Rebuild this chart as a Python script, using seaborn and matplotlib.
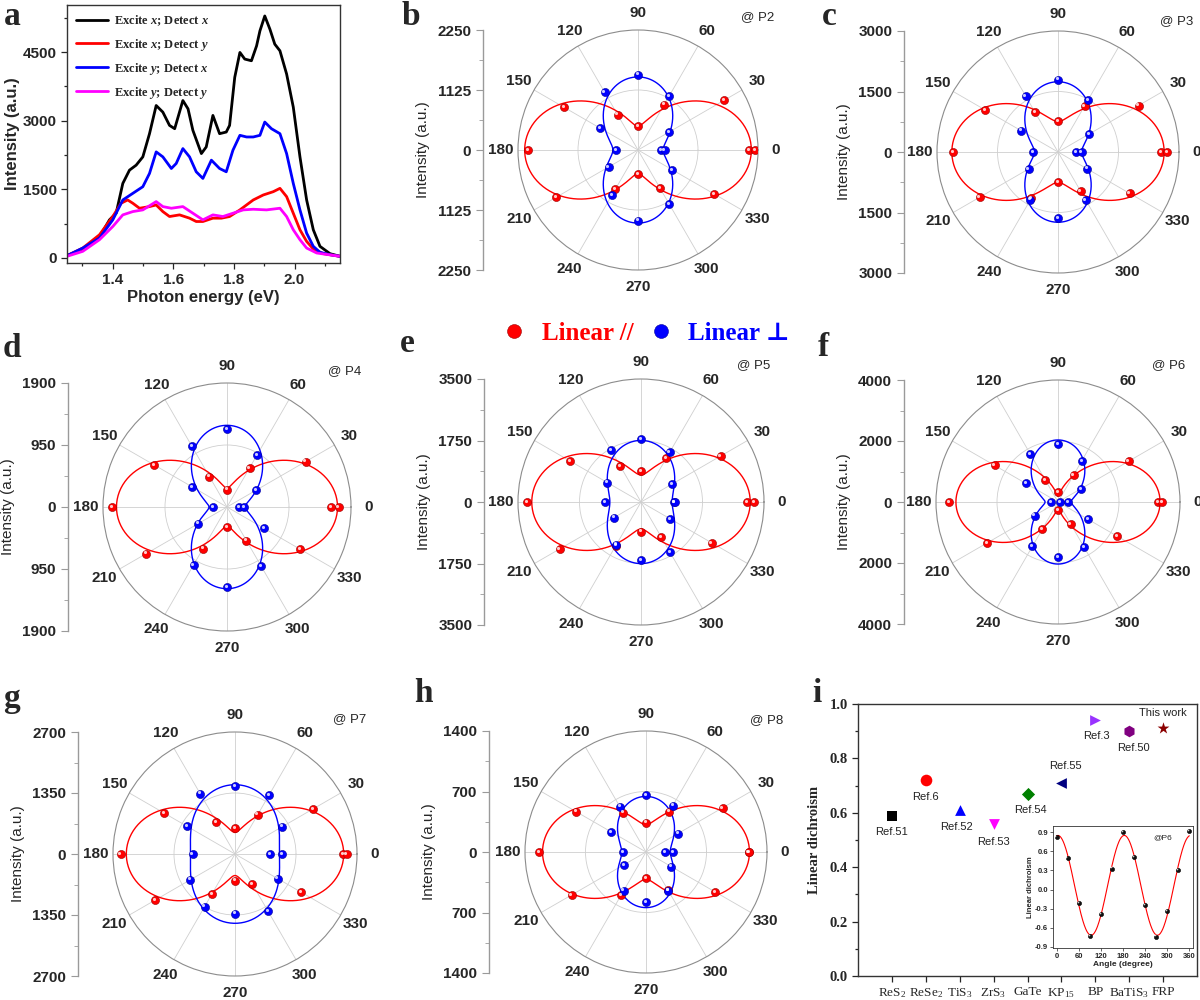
import matplotlib
matplotlib.use('Agg')
import matplotlib.pyplot as plt
import numpy as np
import pandas as pd
import seaborn as sns
from matplotlib.font_manager import FontProperties
from matplotlib.lines import Line2D
from matplotlib.ticker import FixedLocator, MultipleLocator
from matplotlib.transforms import ScaledTranslation

# ---- panel a: PL spectra for the four polarization configurations ----
e_xx = [1.250, 1.302, 1.357, 1.390, 1.412, 1.434, 1.456, 1.478, 1.500, 1.522,
        1.544, 1.566, 1.588, 1.605, 1.632, 1.649, 1.665, 1.693, 1.709, 1.731,
        1.753, 1.775, 1.786, 1.803, 1.820, 1.836, 1.858, 1.875, 1.886, 1.902,
        1.919, 1.935, 1.952, 1.974, 1.996, 2.018, 2.040, 2.062, 2.084, 2.117, 2.150]
i_xx = [50, 195, 456, 833, 978, 1630, 1920, 2029, 2210, 2717,
        3333, 3188, 2898, 2826, 3442, 3260, 2790, 2282, 2427, 3116,
        2717, 2753, 2898, 3949, 4493, 4348, 4311, 4637, 4964, 5290,
        5000, 4674, 4529, 4021, 3297, 2210, 1268, 616, 254, 94, 36]

e_xy = [1.250, 1.302, 1.357, 1.401, 1.428, 1.450, 1.467, 1.489, 1.522, 1.544,
        1.566, 1.588, 1.621, 1.654, 1.676, 1.698, 1.731, 1.759, 1.786, 1.820,
        1.864, 1.897, 1.930, 1.952, 1.974, 1.996, 2.018, 2.040, 2.062, 2.095, 2.150]
i_xy = [50, 217, 507, 906, 1196, 1268, 1196, 1087, 1123, 1159,
        1014, 906, 942, 870, 797, 797, 870, 870, 906, 1051,
        1268, 1377, 1449, 1522, 1341, 978, 616, 362, 196, 94, 36]

e_yx = [1.250, 1.302, 1.357, 1.401, 1.434, 1.467, 1.500, 1.522, 1.544, 1.566,
        1.594, 1.610, 1.632, 1.654, 1.676, 1.698, 1.726, 1.753, 1.775, 1.797,
        1.820, 1.842, 1.864, 1.886, 1.902, 1.924, 1.952, 1.974, 1.996, 2.018,
        2.040, 2.062, 2.084, 2.117, 2.150]
i_yx = [50, 217, 435, 833, 1268, 1413, 1558, 1848, 2319, 2210,
        1956, 2065, 2391, 2210, 1884, 1739, 2138, 1956, 1884, 2355,
        2681, 2645, 2645, 2681, 2971, 2826, 2717, 2282, 1630, 1051,
        543, 254, 123, 72, 36]

e_yy = [1.250, 1.302, 1.357, 1.401, 1.434, 1.467, 1.500, 1.544, 1.566, 1.594,
        1.632, 1.665, 1.698, 1.731, 1.764, 1.797, 1.831, 1.864, 1.908, 1.952,
        1.974, 1.996, 2.018, 2.040, 2.073, 2.150]
i_yy = [36, 145, 399, 688, 942, 1014, 1051, 1232, 1123, 1087,
        1123, 978, 833, 942, 906, 978, 1051, 1065, 1051, 1087,
        906, 616, 399, 217, 109, 36]

configs = [r'Excite $x$; Detect $x$', r'Excite $x$; Detect $y$',
           r'Excite $y$; Detect $x$', r'Excite $y$; Detect $y$']

# ---- panels b-h: polarized intensity vs angle (0..360 step 30) ----
angles = [0, 30, 60, 90, 120, 150, 180, 210, 240, 270, 300, 330, 360]

b_par = [2086, 1866, 984, 454, 765, 1595, 2066, 1770, 850, 454, 821, 1643, 2193]
b_perp = [435, 674, 1166, 1411, 1248, 825, 416, 638, 979, 1323, 1166, 745, 498]
c_par = [2557, 2305, 1324, 760, 1136, 2077, 2606, 2247, 1315, 743, 1128, 2050, 2712]
c_perp = [449, 890, 1495, 1797, 1610, 1062, 621, 842, 1364, 1634, 1373, 825, 588]
d_par = [1592, 1390, 690, 267, 539, 1294, 1756, 1427, 736, 308, 597, 1290, 1710]
d_perp = [185, 513, 922, 1196, 1074, 618, 216, 506, 1026, 1232, 1042, 652, 267]
e_par = [3016, 2620, 1440, 882, 1183, 2330, 3244, 2676, 1436, 844, 1151, 2320, 3225]
e_perp = [949, 1018, 1632, 1783, 1707, 1101, 1024, 888, 1402, 1650, 1650, 955, 960]
f_par = [3274, 2678, 1030, 325, 826, 2398, 3577, 2675, 1032, 260, 825, 2247, 3415]
f_perp = [76, 866, 1561, 1886, 1807, 1218, 217, 888, 1682, 1810, 1710, 1132, 325]
g_par = [2385, 1987, 1005, 572, 821, 1805, 2531, 2049, 1023, 587, 763, 1696, 2473]
g_perp = [770, 1213, 1504, 1504, 1546, 1219, 939, 1139, 1342, 1321, 1460, 1088, 1049]
h_par = [1187, 1023, 540, 339, 525, 936, 1236, 992, 575, 300, 508, 920, 1195]
h_perp = [217, 426, 620, 658, 605, 468, 266, 297, 517, 582, 517, 338, 312]

r_max = {'P2': 2250, 'P3': 3000, 'P4': 1900, 'P5': 3500, 'P6': 4000, 'P7': 2700, 'P8': 1400}

# ---- panel i: linear dichroism comparison ----
materials = [r'ReS$_\mathrm{2}$', r'ReSe$_\mathrm{2}$', r'TiS$_\mathrm{3}$', r'ZrS$_\mathrm{3}$',
             'GaTe', r'KP$_\mathrm{15}$', 'BP', r'BaTiS$_\mathrm{3}$', 'FRP']
ld_values = [0.59, 0.72, 0.61, 0.56, 0.67, 0.71, 0.94, 0.90, 0.91]
refs = ['Ref.51', 'Ref.6', 'Ref.52', 'Ref.53', 'Ref.54', 'Ref.55', 'Ref.3', 'Ref.50', 'This work']

# inset: LD vs angle at P6
ld_angle = [0, 30, 60, 90, 120, 150, 180, 210, 240, 270, 300, 330, 360]
ld_p6 = [0.82, 0.50, -0.21, -0.73, -0.39, 0.33, 0.90, 0.51, -0.24, -0.74, -0.34, 0.31, 0.92]

W, H = 1200, 1000
SERIF = 'Liberation Serif'
RED, BLUE = '#ff0000', '#0000ff'

sns.set_style('ticks')
plt.rcParams['font.family'] = ['Liberation Sans', 'DejaVu Sans']
plt.rcParams['mathtext.fontset'] = 'custom'
plt.rcParams['mathtext.rm'] = 'Liberation Serif'
plt.rcParams['mathtext.it'] = 'Liberation Serif:italic:bold'
plt.rcParams['axes.edgecolor'] = '#333333'
plt.rcParams['axes.linewidth'] = 1.0

fig = plt.figure(figsize=(12, 10), dpi=100)


def rect(l, t, r, b):
    return [l / W, 1 - b / H, (r - l) / W, (b - t) / H]


def cos2_fit(ang, vals, grid, tilt=False):
    t = np.deg2rad(ang)
    g = np.deg2rad(grid)
    cols = [np.ones_like(t), np.cos(2 * t)] + ([np.sin(2 * t)] if tilt else [])
    gcols = [np.ones_like(g), np.cos(2 * g)] + ([np.sin(2 * g)] if tilt else [])
    coef, *_ = np.linalg.lstsq(np.column_stack(cols), np.asarray(vals, float), rcond=None)
    return np.column_stack(gcols) @ coef


def shiny(ax, x, y, color, dark, size):
    sns.scatterplot(x=x, y=y, ax=ax, color=color, s=size, edgecolor=dark,
                    linewidth=0.4, zorder=4, legend=False)
    off = ax.transData + ScaledTranslation(-0.9 / 72, 0.9 / 72, fig.dpi_scale_trans)
    ax.scatter(x, y, s=size * 0.15, color='white', alpha=0.8, lw=0, zorder=5, transform=off)


def panel_letter(x, y, s):
    fig.text(x / W, 1 - y / H, s, fontsize=24, fontweight='bold', family=SERIF, va='baseline')


def polar_panel(cx, cy, R, axis_x, tag, tag_xy, par, perp):
    rmax = r_max[tag]
    pax = fig.add_axes(rect(cx - R, cy - R, cx + R, cy + R), projection='polar')
    grid = np.arange(0, 361, 1)
    th = np.deg2rad(angles)
    for vals, col, dark in [(par, RED, '#9a0000'), (perp, BLUE, '#00009a')]:
        sns.lineplot(x=np.deg2rad(grid), y=cos2_fit(angles, vals, grid), ax=pax,
                     color=col, lw=1.0, sort=False, zorder=3)
        shiny(pax, th, vals, col, dark, 34)
    pax.set_ylim(0, rmax)
    pax.set_yticks([rmax / 2])
    pax.set_yticklabels([])
    pax.set_thetagrids(range(0, 360, 30), [str(a) for a in range(0, 360, 30)],
                       fontsize=11, fontweight='bold')
    pax.tick_params(axis='x', pad=2)
    pax.grid(color='#cfcfcf', lw=0.6)
    pax.spines['polar'].set_edgecolor('#8c8c8c')
    pax.spines['polar'].set_linewidth(0.8)
    pax.set_xlabel('')
    pax.set_ylabel('')

    lax = fig.add_axes(rect(axis_x, cy - R, axis_x + 1, cy + R))
    lax.patch.set_visible(False)
    for s in ('top', 'right', 'bottom'):
        lax.spines[s].set_visible(False)
    lax.spines['left'].set_color('#9a9a9a')
    lax.set_xticks([])
    lax.set_ylim(-rmax, rmax)
    ticks = [-rmax, -rmax / 2, 0, rmax / 2, rmax]
    lax.yaxis.set_major_locator(FixedLocator(ticks))
    lax.set_yticklabels([str(abs(int(v))) for v in ticks], fontsize=11, fontweight='bold')
    lax.yaxis.set_minor_locator(FixedLocator([-0.75 * rmax, -0.25 * rmax, 0.25 * rmax, 0.75 * rmax]))
    lax.tick_params(axis='y', which='major', length=5, color='#9a9a9a')
    lax.tick_params(axis='y', which='minor', length=3, color='#9a9a9a')
    lax.set_ylabel('Intensity (a.u.)', fontsize=11, labelpad=5)

    fig.text(tag_xy[0] / W, 1 - tag_xy[1] / H, '@ ' + tag, fontsize=9.5, va='center')


# ---------------- panel a ----------------
ax_a = fig.add_axes(rect(67, 5, 340, 263))
spec = pd.concat([
    pd.DataFrame({'energy': e, 'intensity': v, 'config': lab})
    for e, v, lab in zip([e_xx, e_xy, e_yx, e_yy], [i_xx, i_xy, i_yx, i_yy], configs)
], ignore_index=True)
sns.lineplot(data=spec, x='energy', y='intensity', hue='config', hue_order=configs,
             palette=['#000000', '#ff0000', '#0000ff', '#ff00ff'], estimator=None,
             sort=False, lw=2.0, ax=ax_a)
ax_a.set_xlim(1.25, 2.15)
ax_a.set_ylim(-110, 5530)
ax_a.set_xticks([1.4, 1.6, 1.8, 2.0], ['1.4', '1.6', '1.8', '2.0'], fontsize=11, fontweight='bold')
ax_a.set_yticks([0, 1500, 3000, 4500], ['0', '1500', '3000', '4500'], fontsize=11, fontweight='bold')
ax_a.xaxis.set_minor_locator(MultipleLocator(0.1))
ax_a.yaxis.set_minor_locator(MultipleLocator(750))
ax_a.tick_params(which='both', direction='out', length=4, width=0.9)
ax_a.tick_params(which='minor', length=2.5)
ax_a.set_xlabel('Photon energy (eV)', fontsize=12, fontweight='bold', labelpad=2)
ax_a.set_ylabel('Intensity (a.u.)', fontsize=12, fontweight='bold', labelpad=2)
ax_a.legend(frameon=False, loc='upper left', bbox_to_anchor=(-0.01, 1.01),
            prop=FontProperties(family=SERIF, weight='bold', size=9),
            handlelength=2.6, handletextpad=0.5, labelspacing=0.65)

# ---------------- polar panels ----------------
polar_panel(638, 150, 120, 483, 'P2', (741, 17), b_par, b_perp)
polar_panel(1058, 152, 121, 904, 'P3', (1160, 21), c_par, c_perp)
polar_panel(227, 507, 124, 68, 'P4', (328, 371), d_par, d_perp)
polar_panel(641, 502, 123, 484, 'P5', (737, 365), e_par, e_perp)
polar_panel(1058, 502, 122, 904, 'P6', (1152, 365), f_par, f_perp)
polar_panel(235, 854, 122, 78, 'P7', (333, 719), g_par, g_perp)
polar_panel(646, 852, 121, 489, 'P8', (750, 720), h_par, h_perp)

# legend between rows
leg_handles = [
    Line2D([], [], ls='', marker='o', ms=10, mfc=RED, mec='#9a0000', mew=0.4, label='Linear //'),
    Line2D([], [], ls='', marker='o', ms=10, mfc=BLUE, mec='#00009a', mew=0.4, label='Linear \u22a5'),
]
fig.legend(handles=leg_handles, ncol=2, frameon=False, loc='center',
           bbox_to_anchor=(646 / W, 1 - 333 / H),
           prop=FontProperties(family=[SERIF, 'DejaVu Serif'], weight='bold', size=18),
           labelcolor=[RED, BLUE], handlelength=1.0, handletextpad=0.6, columnspacing=0.6)

# ---------------- panel i ----------------
ax_i = fig.add_axes(rect(858, 704, 1197, 976))
mat_colors = ['#000000', '#ff0000', '#0000ff', '#ff00ff', '#008000', '#000080', '#9933ff', '#800080', '#8b0000']
mat_markers = ['s', 'o', '^', 'v', 'D', '<', '>', 'h', '*']
mat_sizes = [45, 70, 60, 60, 45, 60, 60, 70, 80]
label_off = [(0, -12), (0, -12), (-2, -12), (0, -13), (2, -12), (3, 12), (1, -11), (3, -12), (0, 11)]
pos = np.arange(1, len(materials) + 1)
for p, v, c, m, sz in zip(pos, ld_values, mat_colors, mat_markers, mat_sizes):
    sns.scatterplot(x=[p], y=[v], marker=m, color=c, s=sz, linewidth=0, ax=ax_i, legend=False)
for p, v, r, off in zip(pos, ld_values, refs, label_off):
    ax_i.annotate(r, (p, v), xytext=off, textcoords='offset points', ha='center', va='center',
                  fontsize=8, color='#222222')
ax_i.set_xlim(0, 10)
ax_i.set_ylim(0, 1.0)
ax_i.set_xticks(pos, materials, family=SERIF, fontsize=9.5)
ax_i.set_yticks(np.arange(0, 1.01, 0.2), [f'{v:.1f}' for v in np.arange(0, 1.01, 0.2)],
                family=SERIF, fontsize=10.5, fontweight='bold')
ax_i.yaxis.set_minor_locator(MultipleLocator(0.1))
ax_i.tick_params(which='both', direction='out', length=4, width=0.9)
ax_i.tick_params(which='minor', length=2.5)
ax_i.set_ylabel('Linear dichroism', family=SERIF, fontsize=10.5, fontweight='bold', labelpad=6)
ax_i.set_xlabel('')

ax_in = fig.add_axes(rect(1053, 826, 1193, 948))
ang_grid = np.arange(0, 361, 1)
sns.lineplot(x=ang_grid, y=cos2_fit(ld_angle, ld_p6, ang_grid, tilt=True), color=RED,
             lw=0.8, ax=ax_in)
shiny(ax_in, ld_angle, ld_p6, '#111111', '#000000', 9)
ax_in.set_xlim(-10, 370)
ax_in.set_ylim(-0.92, 1.0)
ax_in.set_xticks(range(0, 361, 60), [str(a) for a in range(0, 361, 60)], fontsize=5.5, fontweight='bold')
ld_ticks = [-0.9, -0.6, -0.3, 0.0, 0.3, 0.6, 0.9]
ax_in.set_yticks(ld_ticks, [f'{v:.1f}' for v in ld_ticks], fontsize=5.5, fontweight='bold')
ax_in.tick_params(length=2, width=0.5, pad=1.5)
for s in ax_in.spines.values():
    s.set_linewidth(0.6)
ax_in.set_xlabel('Angle (degree)', fontsize=6, fontweight='bold', labelpad=1)
ax_in.set_ylabel('Linear dichroism', fontsize=5.5, fontweight='bold', labelpad=1)
ax_in.text(0.72, 0.9, '@P6', transform=ax_in.transAxes, fontsize=6, va='center')

# panel letters
panel_letter(4, 25, 'a')
panel_letter(402, 25, 'b')
panel_letter(822, 25, 'c')
panel_letter(3, 357, 'd')
panel_letter(400, 352, 'e')
panel_letter(818, 356, 'f')
panel_letter(3, 707, 'g')
panel_letter(414, 702, 'h')
panel_letter(812, 702, 'i')

fig.savefig('out.png', dpi=100)
